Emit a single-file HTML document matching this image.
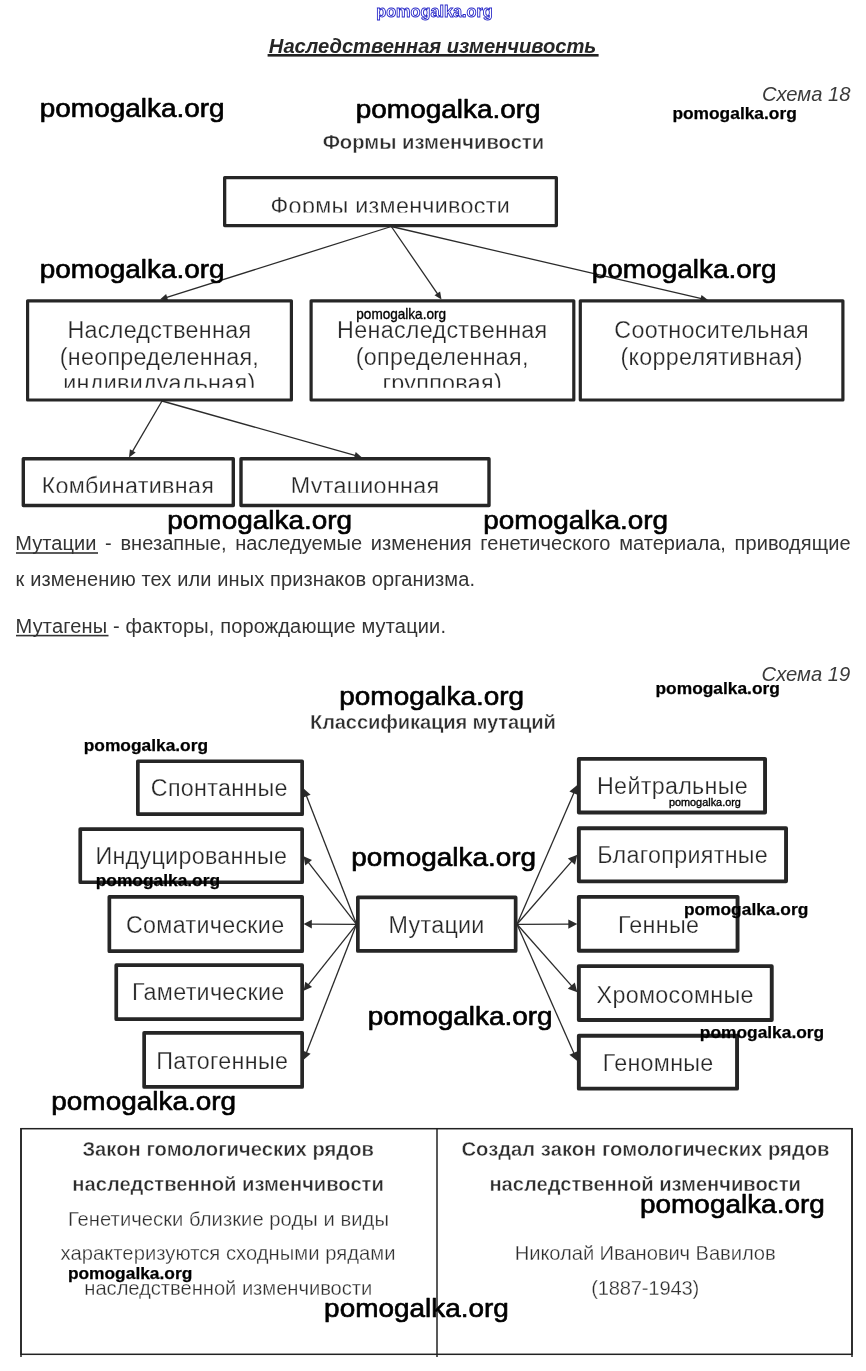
<!DOCTYPE html>
<html lang="ru">
<head>
<meta charset="utf-8">
<title>Наследственная изменчивость</title>
<style>
html,body{margin:0;padding:0;background:#fff}
body{width:866px;height:1371px;overflow:hidden}
svg{display:block;will-change:transform}
text{font-family:"Liberation Sans",Arial,sans-serif;white-space:pre}
.d{font-size:23.3px;fill:#262626;letter-spacing:.3px;text-anchor:middle;stroke:#fff;stroke-width:.25px}
.p{font-size:20px;fill:#333;letter-spacing:.1px}
.b{font-size:20.2px;font-weight:bold;fill:#2e2e2e;text-anchor:middle;stroke:#fff;stroke-width:.4px}
.n{font-size:20.2px;fill:#2e2e2e;text-anchor:middle;stroke:#fff;stroke-width:.3px}
.i{font-size:20.2px;font-style:italic;fill:#3a3a3a;text-anchor:end}
.w1{font-size:26.5px;fill:#000;stroke:#000;stroke-width:.65px;stroke-linejoin:round}
.w2{font-size:17.3px;font-weight:bold;fill:#000;stroke:#000;stroke-width:.25px;stroke-linejoin:round}
.w3{fill:#000;stroke:#000;stroke-width:.35px;stroke-linejoin:round}
.bx{fill:none;stroke:#262626;stroke-linejoin:round}
.ln{stroke:#2b2b2b;stroke-width:1.3;fill:none}
.ah{fill:#2b2b2b;stroke:none}
</style>
</head>
<body>
<svg width="866" height="1371" viewBox="0 0 866 1371">
<rect x="0" y="0" width="866" height="1371" fill="#fff"/>
<text x="434.5" y="17.1" text-anchor="middle" font-size="16.8" font-weight="bold" fill="#fff" stroke="#2828c8" stroke-width=".9" textLength="116.5" lengthAdjust="spacingAndGlyphs">pomogalka.org</text>
<text x="432.6" y="52.8" text-anchor="middle" font-size="20.2" font-weight="bold" font-style="italic" fill="#262626" textLength="327.5">Наследственная изменчивость</text>
<rect x="267.6" y="54" width="331" height="2.6" fill="#222"/>
<text class="i" x="850.5" y="100.9">Схема 18</text>
<text class="b" x="433.4" y="149.2" textLength="221.5">Формы изменчивости</text>
<clipPath id="c0"><rect x="226" y="180" width="329" height="32.5"/></clipPath>
<clipPath id="c1"><rect x="29" y="302" width="813" height="85.7"/></clipPath>
<clipPath id="c2"><rect x="24" y="460" width="465" height="32.7"/></clipPath>
<line class="ln" x1="391.3" y1="226.5" x2="165.2" y2="297.9"/>
<polygon class="ah" points="160.0,299.6 166.1,294.1 168.2,300.6"/>
<line class="ln" x1="391.3" y1="226.5" x2="438.4" y2="295.1"/>
<polygon class="ah" points="441.5,299.6 434.5,295.3 440.1,291.5"/>
<line class="ln" x1="391.3" y1="226.5" x2="702.6" y2="298.8"/>
<polygon class="ah" points="708.0,300.0 699.9,301.6 701.5,295.0"/>
<line class="ln" x1="162.0" y1="401.0" x2="131.8" y2="452.7"/>
<polygon class="ah" points="129.0,457.4 129.9,449.2 135.7,452.6"/>
<line class="ln" x1="162.0" y1="401.0" x2="356.7" y2="455.9"/>
<polygon class="ah" points="362.0,457.4 353.9,458.6 355.7,452.1"/>
<rect class="bx" x="224.65" y="177.65" width="331.70" height="47.90" stroke-width="3.3"/>
<rect class="bx" x="27.60" y="300.80" width="263.80" height="99.20" stroke-width="3.2"/>
<rect class="bx" x="311.10" y="300.80" width="262.70" height="99.20" stroke-width="3.2"/>
<rect class="bx" x="580.30" y="300.80" width="262.60" height="99.20" stroke-width="3.2"/>
<rect class="bx" x="23.30" y="458.70" width="210.00" height="46.80" stroke-width="3.4"/>
<rect class="bx" x="241.00" y="458.70" width="248.00" height="46.80" stroke-width="3.4"/>
<g clip-path="url(#c0)"><text class="d" x="390.3" y="214.3">Формы изменчивости</text></g>
<g clip-path="url(#c1)">
<text class="d" x="159.4" y="337.5">Наследственная</text>
<text class="d" x="159.4" y="364.7">(неопределенная,</text>
<text class="d" x="159.4" y="390.9">индивидуальная)</text>
<text class="d" x="442.3" y="337.5">Ненаследственная</text>
<text class="d" x="442.3" y="364.7">(определенная,</text>
<text class="d" x="442.3" y="390.9">групповая)</text>
<text class="d" x="711.6" y="337.5">Соотносительная</text>
<text class="d" x="711.6" y="364.7">(коррелятивная)</text>
</g>
<g clip-path="url(#c2)"><text class="d" x="127.9" y="493.6">Комбинативная</text><text class="d" x="365.1" y="493.6">Мутационная</text></g>
<text class="p" x="15.3" y="550" textLength="835.3" lengthAdjust="spacing" style="letter-spacing:0;word-spacing:3px">Мутации - внезапные, наследуемые изменения генетического материала, приводящие</text>
<rect x="16" y="552.2" width="82" height="1.6" fill="#333"/>
<text class="p" x="15.6" y="585.5" textLength="459.5">к изменению тех или иных признаков организма.</text>
<text class="p" x="15.6" y="632.5" textLength="430.5">Мутагены - факторы, порождающие мутации.</text>
<rect x="16" y="634.8" width="92.5" height="1.6" fill="#333"/>
<text class="i" x="850.2" y="680.6">Схема 19</text>
<text class="b" x="433" y="728.8" textLength="246">Классификация мутаций</text>
<line class="ln" x1="356.5" y1="924.3" x2="305.9" y2="794.4"/>
<polygon class="ah" points="303.6,788.6 310.6,794.7 302.6,797.8"/>
<line class="ln" x1="356.5" y1="924.3" x2="307.4" y2="861.2"/>
<polygon class="ah" points="303.6,856.3 312.0,860.1 305.2,865.4"/>
<line class="ln" x1="356.5" y1="924.3" x2="309.8" y2="924.1"/>
<polygon class="ah" points="303.6,924.1 311.8,919.8 311.8,928.4"/>
<line class="ln" x1="356.5" y1="924.3" x2="307.5" y2="985.9"/>
<polygon class="ah" points="303.6,990.8 305.3,981.7 312.1,987.1"/>
<line class="ln" x1="356.5" y1="924.3" x2="305.9" y2="1054.0"/>
<polygon class="ah" points="303.6,1059.8 302.6,1050.6 310.6,1053.7"/>
<rect class="bx" x="137.85" y="761.25" width="164.30" height="52.90" stroke-width="3.7"/>
<text class="d" x="219.3" y="796.4">Спонтанные</text>
<rect class="bx" x="80.25" y="829.05" width="221.90" height="53.20" stroke-width="3.7"/>
<text class="d" x="191.3" y="863.7">Индуцированные</text>
<rect class="bx" x="109.35" y="896.85" width="192.80" height="54.30" stroke-width="3.7"/>
<text class="d" x="205.2" y="932.5">Соматические</text>
<rect class="bx" x="116.25" y="965.15" width="185.90" height="54.00" stroke-width="3.7"/>
<text class="d" x="208.3" y="1000">Гаметические</text>
<rect class="bx" x="144.15" y="1032.85" width="158.00" height="54.10" stroke-width="3.7"/>
<text class="d" x="222.3" y="1068.5">Патогенные</text>
<line class="ln" x1="517.0" y1="924.3" x2="574.5" y2="791.4"/>
<polygon class="ah" points="577.3,785.0 578.0,795.1 569.4,791.4"/>
<line class="ln" x1="517.0" y1="924.3" x2="572.7" y2="860.1"/>
<polygon class="ah" points="577.3,854.8 575.0,864.7 567.9,858.5"/>
<line class="ln" x1="517.0" y1="924.3" x2="570.3" y2="924.1"/>
<polygon class="ah" points="577.3,924.1 568.3,928.8 568.3,919.4"/>
<line class="ln" x1="517.0" y1="924.3" x2="572.7" y2="987.1"/>
<polygon class="ah" points="577.3,992.3 567.8,988.7 574.8,982.4"/>
<line class="ln" x1="517.0" y1="924.3" x2="574.5" y2="1054.6"/>
<polygon class="ah" points="577.3,1061.0 569.4,1054.7 578.0,1050.9"/>
<rect class="bx" x="578.85" y="758.85" width="186.20" height="53.60" stroke-width="3.9"/>
<text class="d" x="672.5" y="794">Нейтральные</text>
<rect class="bx" x="578.85" y="828.25" width="207.20" height="53.10" stroke-width="3.9"/>
<text class="d" x="682.7" y="863">Благоприятные</text>
<rect class="bx" x="578.85" y="896.85" width="158.70" height="53.90" stroke-width="3.9"/>
<text class="d" x="658.6" y="933.4">Генные</text>
<rect class="bx" x="578.85" y="966.15" width="192.90" height="53.80" stroke-width="3.9"/>
<text class="d" x="675.2" y="1002.5">Хромосомные</text>
<rect class="bx" x="578.85" y="1035.75" width="158.20" height="52.90" stroke-width="3.9"/>
<text class="d" x="658.2" y="1071">Геномные</text>
<rect class="bx" x="357.85" y="897.45" width="157.80" height="53.50" stroke-width="3.7"/>
<text class="d" x="436.6" y="932.6">Мутации</text>
<rect x="21" y="1128.7" width="831" height="225.6" fill="none" stroke="#222" stroke-width="1.5"/>
<line x1="437" y1="1128" x2="437" y2="1357" stroke="#222" stroke-width="1.5"/>
<line x1="21" y1="1128" x2="21" y2="1357" stroke="#222" stroke-width="1.5"/>
<line x1="852" y1="1128" x2="852" y2="1357" stroke="#222" stroke-width="1.5"/>
<text class="b" x="228.2" y="1155.6" textLength="291.5">Закон гомологических рядов</text>
<text class="b" x="228.1" y="1190.8" textLength="311.5">наследственной изменчивости</text>
<text class="n" x="228.4" y="1225.5" textLength="321">Генетически близкие роды и виды</text>
<text class="n" x="228" y="1260" textLength="335">характеризуются сходными рядами</text>
<text class="n" x="228.3" y="1294.8" textLength="288">наследственной изменчивости</text>
<text class="b" x="645.5" y="1155.6" textLength="368">Создал закон гомологических рядов</text>
<text class="b" x="645.2" y="1190.8" textLength="311.5">наследственной изменчивости</text>
<text class="n" x="645.2" y="1260" textLength="261">Николай Иванович Вавилов</text>
<text class="n" x="645.2" y="1294.8" textLength="108">(1887-1943)</text>
<text class="w1" x="39.8" y="117.3" textLength="184.8" lengthAdjust="spacingAndGlyphs">pomogalka.org</text>
<text class="w1" x="355.8" y="118" textLength="184.8" lengthAdjust="spacingAndGlyphs">pomogalka.org</text>
<text class="w1" x="39.8" y="277.5" textLength="184.8" lengthAdjust="spacingAndGlyphs">pomogalka.org</text>
<text class="w1" x="591.8" y="277.5" textLength="184.8" lengthAdjust="spacingAndGlyphs">pomogalka.org</text>
<text class="w1" x="167.3" y="529" textLength="184.8" lengthAdjust="spacingAndGlyphs">pomogalka.org</text>
<text class="w1" x="483.3" y="529" textLength="184.8" lengthAdjust="spacingAndGlyphs">pomogalka.org</text>
<text class="w1" x="339.3" y="704.9" textLength="184.8" lengthAdjust="spacingAndGlyphs">pomogalka.org</text>
<text class="w1" x="351.3" y="866" textLength="184.8" lengthAdjust="spacingAndGlyphs">pomogalka.org</text>
<text class="w1" x="367.8" y="1025" textLength="184.8" lengthAdjust="spacingAndGlyphs">pomogalka.org</text>
<text class="w1" x="51.3" y="1109.5" textLength="184.8" lengthAdjust="spacingAndGlyphs">pomogalka.org</text>
<text class="w1" x="640.0" y="1212.7" textLength="184.8" lengthAdjust="spacingAndGlyphs">pomogalka.org</text>
<text class="w1" x="324.1" y="1316.5" textLength="184.8" lengthAdjust="spacingAndGlyphs">pomogalka.org</text>
<text class="w2" x="672.4" y="118.5" textLength="124.4" lengthAdjust="spacingAndGlyphs">pomogalka.org</text>
<text class="w2" x="655.5" y="694.1" textLength="124.4" lengthAdjust="spacingAndGlyphs">pomogalka.org</text>
<text class="w2" x="83.7" y="750.5" textLength="124.4" lengthAdjust="spacingAndGlyphs">pomogalka.org</text>
<text class="w2" x="95.7" y="885.6" textLength="124.4" lengthAdjust="spacingAndGlyphs">pomogalka.org</text>
<text class="w2" x="683.9" y="914.5" textLength="124.4" lengthAdjust="spacingAndGlyphs">pomogalka.org</text>
<text class="w2" x="699.8" y="1037.6" textLength="124.4" lengthAdjust="spacingAndGlyphs">pomogalka.org</text>
<text class="w2" x="67.89999999999999" y="1278.6" textLength="124.4" lengthAdjust="spacingAndGlyphs">pomogalka.org</text>
<text class="w3" x="356.3" y="318.9" font-size="14.2" textLength="89.7" lengthAdjust="spacingAndGlyphs">pomogalka.org</text>
<text class="w3" x="668.9" y="806" font-size="10.9" textLength="72" lengthAdjust="spacingAndGlyphs">pomogalka.org</text>
</svg>
</body>
</html>
